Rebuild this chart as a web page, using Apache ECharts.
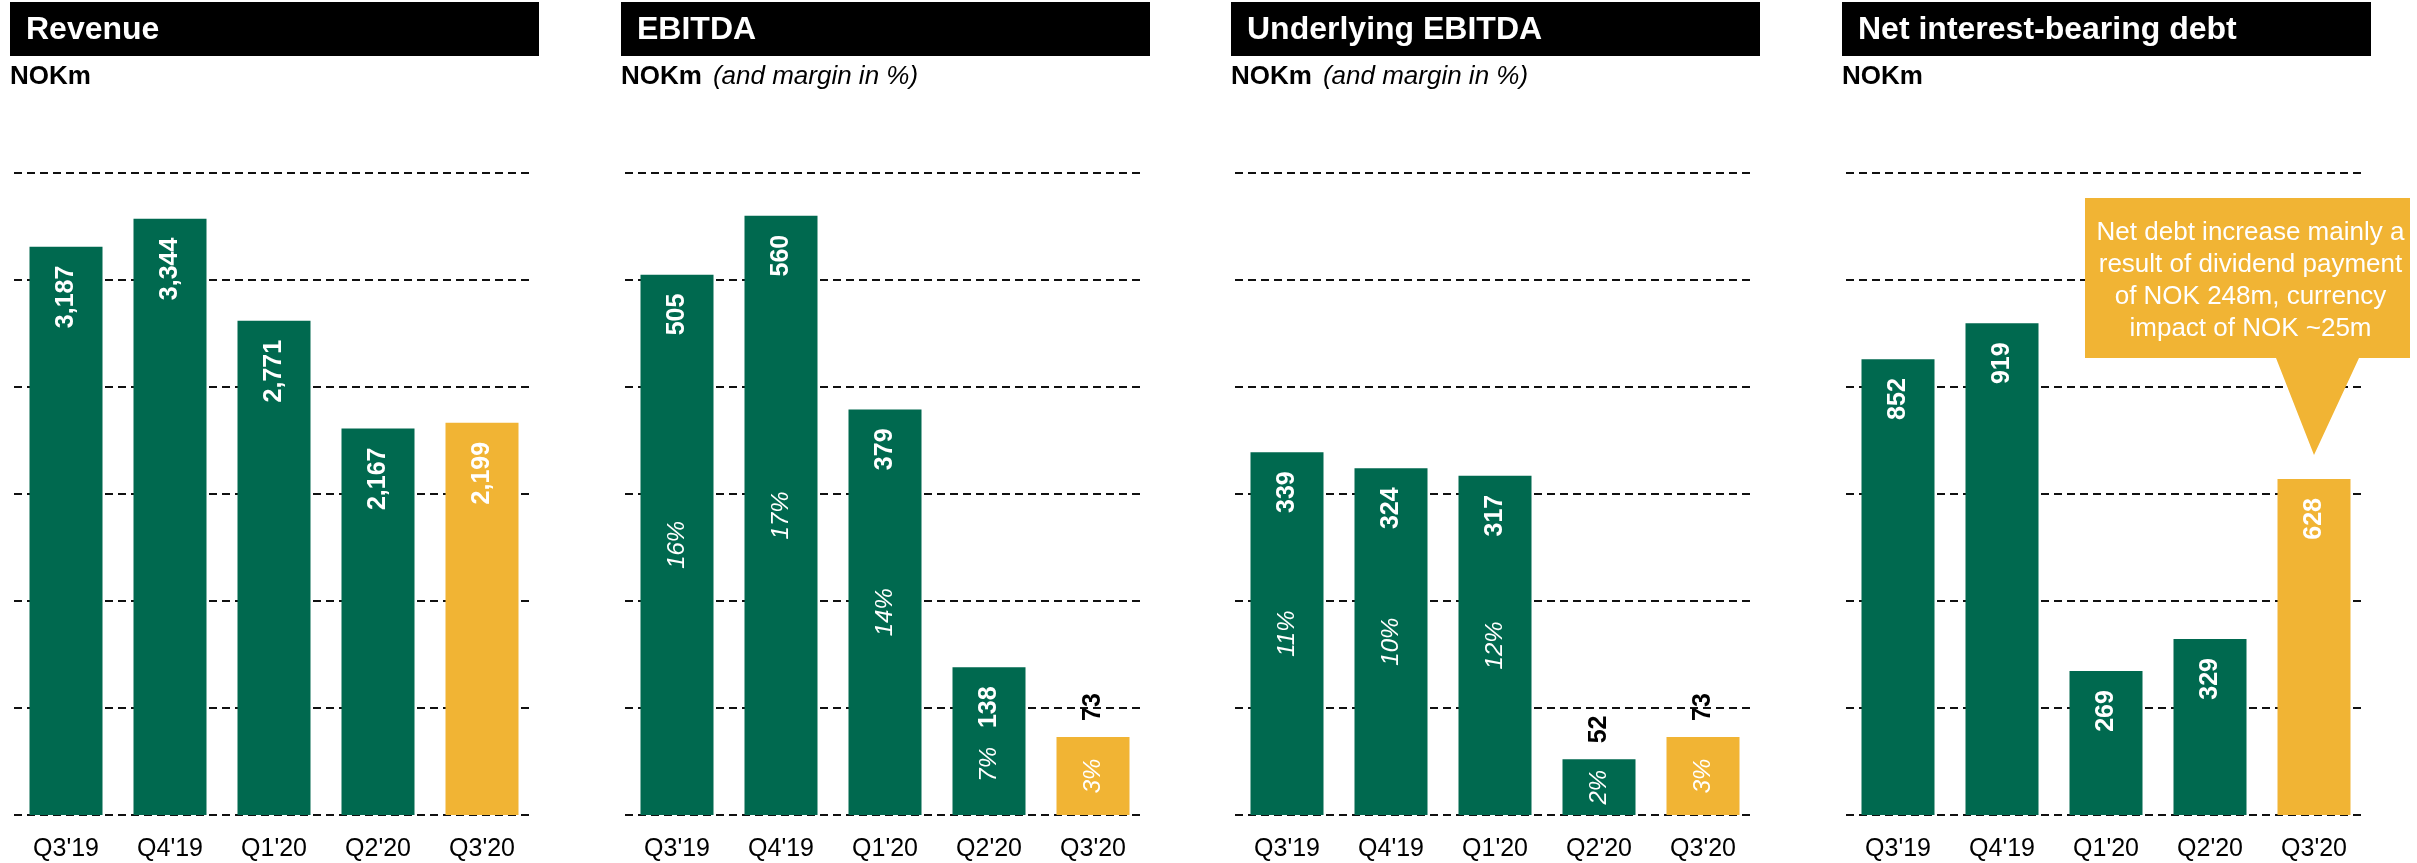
<!DOCTYPE html>
<html>
<head>
<meta charset="utf-8">
<script src="https://cdn.jsdelivr.net/npm/echarts@6/dist/echarts.min.js"></script>
<style>
  html, body { margin: 0; padding: 0; background: #fff; }
  #chart { width: 2417px; height: 863px; }
</style>
</head>
<body>
<div id="chart"></div>
<script>
var categories = ["Q3'19", "Q4'19", "Q1'20", "Q2'20", "Q3'20"];
var revenue = [3187, 3344, 2771, 2167, 2199];
var ebitda = [505, 560, 379, 138, 73];
var ebitdaMargin = [16, 17, 14, 7, 3];
var underlying = [339, 324, 317, 52, 73];
var underlyingMargin = [11, 10, 12, 2, 3];
var netDebt = [852, 919, 269, 329, 628];
var axisMax = [3600, 600, 600, 1200];
var axisStep = [600, 100, 100, 200];

var GREEN = '#00694f', YELLOW = '#f1b434';
var FONT = "'Liberation Sans', Arial, sans-serif";
var panelLeft = [10, 621, 1231, 1842];
var panelW = 529;

var panels = [
  { title: 'Revenue', sub: '{b|NOKm}', values: revenue },
  { title: 'EBITDA', sub: '{b|NOKm}{i|(and margin in %)}', values: ebitda, margins: ebitdaMargin },
  { title: 'Underlying EBITDA', sub: '{b|NOKm}{i|(and margin in %)}', values: underlying, margins: underlyingMargin },
  { title: 'Net interest-bearing debt', sub: '{b|NOKm}', values: netDebt }
];

var chart = echarts.init(document.getElementById('chart'));

// small bars get their value above the bar instead of inside
function isSmall(v, i) { return v / axisMax[i] < 0.15; }

var grids = [], xAxes = [], yAxes = [], series = [];
panels.forEach(function (p, i) {
  grids.push({ left: panelLeft[i] + 4, width: 520, top: 173, bottom: 48 });
  xAxes.push({
    type: 'category', gridIndex: i, data: categories,
    axisLine: { show: false }, axisTick: { show: false },
    axisLabel: { color: '#000', fontSize: 25, fontFamily: FONT, margin: 22 }
  });
  yAxes.push({
    type: 'value', gridIndex: i, min: 0, max: axisMax[i], interval: axisStep[i],
    axisLabel: { show: false }, axisLine: { show: false }, axisTick: { show: false },
    splitLine: { lineStyle: { color: '#111', width: 2, type: [8, 5] } }
  });
  series.push({
    type: 'bar', xAxisIndex: i, yAxisIndex: i, barWidth: 73,
    label: {
      show: true, position: 'insideTop', distance: 19, rotate: 90,
      align: 'right', verticalAlign: 'middle',
      color: '#fff', fontSize: 25, fontWeight: 'bold', fontFamily: FONT,
      formatter: function (d) { return d.value.toLocaleString('en-US'); }
    },
    data: p.values.map(function (v, k) {
      var item = { value: v, itemStyle: { color: k === 4 ? YELLOW : GREEN } };
      if (isSmall(v, i)) {
        item.label = { position: 'top', align: 'left', distance: 16, color: '#000' };
      }
      return item;
    })
  });
  if (p.margins) {
    series.push({
      type: 'custom', xAxisIndex: i, yAxisIndex: i, silent: true, z: 5,
      encode: { x: 0, y: 1 },
      data: p.values.map(function (v, k) { return [k, v]; }),
      renderItem: function (params, api) {
        var k = api.value(0), v = api.value(1);
        var top = api.coord([k, v]), base = api.coord([k, 0]);
        var y = (top[1] + base[1]) / 2;
        if (!isSmall(v, i)) {
          // keep clear of the value label at the top of the bar
          y = Math.max(y, top[1] + 19 + String(v).length * 14 + 36);
        }
        return {
          type: 'text', x: top[0], y: y, rotation: Math.PI / 2,
          style: {
            text: p.margins[k] + '%', fill: '#fff',
            font: 'italic 24px ' + FONT, align: 'center', verticalAlign: 'middle'
          }
        };
      }
    });
  }
});

chart.setOption({
  animation: false,
  grid: grids,
  xAxis: xAxes,
  yAxis: yAxes,
  series: series
});

// headers and the callout on the debt panel
var graphics = [];
panels.forEach(function (p, i) {
  var L = panelLeft[i];
  graphics.push({
    type: 'rect', shape: { x: L, y: 2, width: panelW, height: 54 },
    style: { fill: '#000' }
  });
  graphics.push({
    type: 'text',
    style: {
      text: p.title, x: L + 16, y: 30, fill: '#fff',
      font: 'bold 32px ' + FONT, verticalAlign: 'middle'
    }
  });
  graphics.push({
    type: 'text',
    style: {
      text: p.sub, x: L, y: 77, verticalAlign: 'middle',
      rich: {
        b: { fontSize: 26, fontWeight: 'bold', fontFamily: FONT, fill: '#000' },
        i: { fontSize: 26, fontStyle: 'italic', fontFamily: FONT, fill: '#000', padding: [0, 0, 0, 11] }
      }
    }
  });
});

var tip = chart.convertToPixel({ xAxisIndex: 3, yAxisIndex: 3 }, [4, netDebt[4]]);
var tipX = tip[0], tipY = tip[1] - 24;
var boxL = 2085, boxR = 2410, boxT = 198, boxB = 358;
graphics.push({
  type: 'polygon',
  shape: {
    points: [
      [boxL, boxT], [boxR, boxT], [boxR, boxB], [tipX + 45, boxB],
      [tipX, tipY], [tipX - 38, boxB], [boxL, boxB]
    ]
  },
  style: { fill: YELLOW }
});
graphics.push({
  type: 'text',
  style: {
    text: 'Net debt increase mainly a\nresult of dividend payment\nof NOK 248m, currency\nimpact of NOK ~25m',
    x: (boxL + boxR) / 2 + 3, y: (boxT + boxB) / 2 + 3,
    align: 'center', verticalAlign: 'middle',
    fill: '#fff', font: '26px ' + FONT, lineHeight: 32
  }
});

chart.setOption({ graphic: graphics });
</script>
</body>
</html>
